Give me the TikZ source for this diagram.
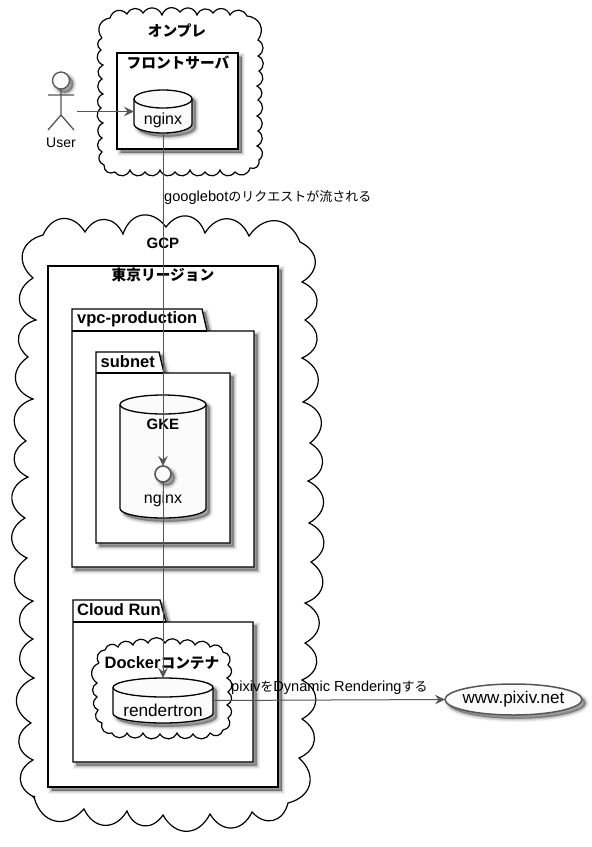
\documentclass[tikz,border=0pt]{standalone}
\usepackage{fontspec}
\setmainfont{Liberation Sans}
\newfontfamily\jp{Noto Sans CJK JP}
\usetikzlibrary{arrows.meta,shapes.geometric}
\newcommand{\J}[1]{{\jp\fontsize{13}{16}\selectfont #1}}
\newcommand{\JT}[1]{{\jp\fontsize{14.7}{16}\selectfont #1}}
\definecolor{lineC}{HTML}{555555}
\definecolor{fillC}{HTML}{FBFBFB}
\tikzset{
  softshadow/.style={
    preaction={draw=black,fill=black,draw opacity=.05,fill opacity=.05,line width=7pt,transform canvas={shift={(3.6,3.6)}}},
    preaction={draw=black,fill=black,draw opacity=.07,fill opacity=.07,line width=5pt,transform canvas={shift={(3.6,3.6)}}},
    preaction={draw=black,fill=black,draw opacity=.10,fill opacity=.10,line width=3pt,transform canvas={shift={(3.6,3.6)}}},
    preaction={draw=black,fill=black,draw opacity=.14,fill opacity=.14,line width=1pt,transform canvas={shift={(3.6,3.6)}}}},
  cloudline/.style={draw=black,line width=1.2pt,line join=miter},
  scallop/.style={bend left=60,looseness=1.25},
  bigscallop/.style={bend left=62,looseness=1.38},
  frameshape/.style={draw=black,fill=white,line width=1.3pt,line join=miter,softshadow},
  pkgline/.style={draw=black,fill=white,line width=1.3pt,line join=miter,softshadow},
  ghost/.style={inner sep=0pt,outer sep=0pt},
  dbline/.style={draw=black,fill=fillC,line width=1.3pt,softshadow},
  dbcap/.style={draw=black,line width=1.3pt},
  conn/.style={draw=lineC,line width=1pt,-{Stealth[length=10pt,width=9.5pt,inset=3.5pt]}},
  title/.style={font=\bfseries\fontsize{16.5}{18}\selectfont,inner sep=0pt},
  titlesmall/.style={font=\bfseries\fontsize{15}{16}\selectfont,inner sep=0pt},
  body/.style={font=\fontsize{16}{18}\selectfont,inner sep=0pt},
  bodywide/.style={font=\fontsize{17.2}{18}\selectfont,inner sep=0pt},
  edgelabel/.style={font=\fontsize{14.6}{16}\selectfont,inner sep=0pt,anchor=west},
  actorline/.style={draw=lineC,line width=1.3pt},
}
% name, L, R, T, ry, B
\newcommand{\dbnode}[6]{%
  \pgfmathsetmacro{\dbC}{(#2+#3)/2}%
  \pgfmathsetmacro{\dbHW}{(#3-#2)/2}%
  \pgfmathsetmacro{\dbKa}{\dbHW*0.5523}%
  \pgfmathsetmacro{\dbKb}{#5*0.5523}%
  \pgfmathsetmacro{\dbM}{#4+#5}%
  \pgfmathsetmacro{\dbS}{#6-#5}%
  \pgfmathsetmacro{\dbLi}{\dbC-\dbKa}%
  \pgfmathsetmacro{\dbRi}{\dbC+\dbKa}%
  \pgfmathsetmacro{\dbUa}{\dbM-\dbKb}%
  \pgfmathsetmacro{\dbUb}{\dbM+\dbKb}%
  \pgfmathsetmacro{\dbDa}{\dbS+\dbKb}%
  \pgfmathsetmacro{\dbH}{#6-#4}%
  \pgfmathsetmacro{\dbW}{#3-#2}%
  \pgfmathsetmacro{\dbCy}{(#4+#6)/2}%
  \path[dbline] (#2,\dbM) .. controls (#2,\dbUa) and (\dbLi,#4) .. (\dbC,#4)
     .. controls (\dbRi,#4) and (#3,\dbUa) .. (#3,\dbM) -- (#3,\dbS)
     .. controls (#3,\dbDa) and (\dbRi,#6) .. (\dbC,#6)
     .. controls (\dbLi,#6) and (#2,\dbDa) .. (#2,\dbS) -- cycle;
  \pgfmathsetmacro{\dbE}{#4+2*#5}%
  \draw[dbcap] (#2,\dbM) .. controls (#2,\dbUb) and (\dbLi,\dbE) .. (\dbC,\dbE)
     .. controls (\dbRi,\dbE) and (#3,\dbUb) .. (#3,\dbM);
  \node[ghost,minimum width=\dbW pt,minimum height=\dbH pt] (#1) at (\dbC,\dbCy) {};
}
% name, L, tabR, cornerX, tabT, bodyT, R, B
\newcommand{\pkgnode}[8]{%
  \path[pkgline] (#2,#5) -- (#2,#8) -- (#7,#8) -- (#7,#6) -- (#4,#6) -- (#3,#5) -- cycle;
  \draw[black,line width=1.3pt] (#2,#6) -- (#4,#6);
  \pgfmathsetmacro{\pkW}{#7-#2}%
  \pgfmathsetmacro{\pkH}{#8-#6}%
  \pgfmathsetmacro{\pkX}{(#7+#2)/2}%
  \pgfmathsetmacro{\pkY}{(#8+#6)/2}%
  \node[ghost,minimum width=\pkW pt,minimum height=\pkH pt] (#1) at (\pkX,\pkY) {};
}
\begin{document}
\begin{tikzpicture}[x=1pt,y=-1pt]
\useasboundingbox (0,0) rectangle (592,847);
\fill[white] (0,0) rectangle (592,847);

% on-premises cloud
\draw[cloudline] (102,38) \foreach \x/\y in {110/18,127/14,143/13,162/15,180/12,197/15,213/13,230/15,247/16,258/40,258/56,259/71,257/86,258/100,257/116,258/131,257/146,259/160,250/168,235/172,220/170,205/172,190/170,175/172,160/170,145/172,130/170,115/172,104/165,102/152,102/138,103/123,101/108,103/94,102/79,103/65,101/50,102/38} { to[scallop] (\x,\y) };

% GCP cloud
\draw[cloudline] (34,797) \foreach \x/\y in {33/760,31/723,34/678,33/639,33/601,27/558,25/518,28/477,26/441,33/399,28/357,36/320,33/278,43/235,85/232,123/234,166/227,205/233,249/236,300/242,302/282,305/320,302/358,303/402,310/443,308/481,309/523,311/562,305/603,305/643,302/680,302/719,299/758,288/803,252/812,210/814,163/815,127/811,84/809,34/797} { to[bigscallop] (\x,\y) };
\fill[black] (34,797) circle (1.6);

% Containers
\path[frameshape] (117,53) -- (238,53) -- (238,149) -- (117,149) -- cycle;
\node[ghost,minimum width=121pt,minimum height=96pt] (front) at (177.5,101) {};
\path[frameshape] (48,266) -- (278,266) -- (278,787) -- (48,787) -- cycle;
\node[ghost,minimum width=230pt,minimum height=521pt] (tokyo) at (163,526.5) {};
\pkgnode{vpc}{72}{202}{207}{309}{331}{254}{567}
\pkgnode{subnet}{96}{159}{164}{352}{373}{230}{543}
\pkgnode{cloudrun}{73}{160}{166}{600}{622}{253}{762}

% Docker cloud
\draw[cloudline] (99,663) \foreach \x/\y in {105/650,118/647,133/645,148/643,165/643,180/644,195/645,210/647,223/652,228/665,227/678,228/692,227/705,228/718,223/730,210/733,193/734,177/733,160/734,143/733,127/733,112/733,102/723,98/710,97/697,97/683,99/663} { to[scallop] (\x,\y) };

% Databases
\dbnode{nginxA}{134}{192}{90}{9}{133}
\dbnode{gke}{120}{206}{395}{9.5}{518}
\dbnode{rendertron}{113}{213}{678}{9.5}{723}

% Titles
\node[title] (tOnprem) at (177,31) {\JT{オンプレ}};
\node[title] (tFront) at (178,63) {\JT{フロントサーバ}};
\node[titlesmall] (tGcp) at (163,243) {GCP};
\node[title] (tTokyo) at (163,275) {\JT{東京リージョン}};
\node[title,anchor=west] (tVpc) at (77,319) {vpc-production};
\node[title,anchor=west] (tSubnet) at (100.5,362) {subnet};
\node[title,anchor=west] (tCloudrun) at (77,610) {Cloud Run};
\node[titlesmall] (tGke) at (163,424) {GKE};
\node[title] (tDocker) at (162,663) {Docker\JT{コンテナ}};

% Body labels
\node[body] (lNginxA) at (163,120.5) {nginx};
\node[body] (lNginxB) at (163,499) {nginx};
\node[bodywide] (lRender) at (163,710) {rendertron};

% Actor
\path[draw=lineC,fill=fillC,line width=1.3pt,softshadow] (61,80.5) circle (8.5);
\draw[actorline] (61,89) -- (61,115) (48,95) -- (74,95) (48,130) -- (61,115) -- (74,130);
\node[ghost,minimum width=29pt,minimum height=58pt] (user) at (61,101) {};
\node[font=\fontsize{14}{16}\selectfont,inner sep=0pt] (lUser) at (61,143) {User};

% Interface and outer usecase
\path[draw=lineC,fill=fillC,line width=1.6pt,softshadow] (163,474) circle (8);
\node[circle,minimum size=16pt,inner sep=0pt,outer sep=0pt] (iface) at (163,474) {};
\path[draw=lineC,fill=fillC,line width=1.5pt,softshadow] (513.5,699.5) ellipse [x radius=68.5,y radius=15.5];
\node[ellipse,minimum width=137pt,minimum height=31pt,inner sep=0pt,outer sep=0pt] (www) at (513.5,699.5) {};
\node[inner sep=0pt,font=\fontsize{17}{18}\selectfont] (lWww) at (513.5,699.5) {www.pixiv.net};

% Connectors
\coordinate (userOut) at ([xshift=1.5pt]user.east |- nginxA.west);
\draw[conn] (userOut) -- (nginxA.west);
\draw[conn] (nginxA.south) -- (iface.north);
\draw[conn] (iface.south) -- (rendertron.north);
\draw[conn] (rendertron.east) -- (www.west);

% Edge labels
\node[edgelabel] (eGoogle) at (164,198) {googlebot\J{のリクエストが流される}};
\node[edgelabel] (ePixiv) at (231,688) {pixiv\J{を}Dynamic Rendering\J{する}};
\end{tikzpicture}
\end{document}
